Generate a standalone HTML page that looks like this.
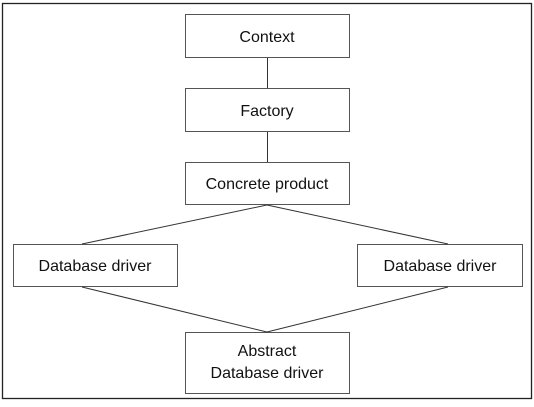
<!DOCTYPE html>
<html><head><style>
body{margin:0;background:#fff;}
svg text{font-family:"Liberation Sans",Arial,sans-serif;font-size:16px;fill:#111;}
</style></head><body>
<svg width="534" height="402" xmlns="http://www.w3.org/2000/svg">
<rect x="2.5" y="3.5" width="529" height="395" fill="#fff" stroke="#222" stroke-width="1.3"/>
<g fill="#fff" stroke="#555" stroke-width="1">
<rect x="185.5" y="14.5" width="164" height="43"/>
<rect x="185.5" y="88.5" width="164" height="43"/>
<rect x="185.5" y="162.5" width="164" height="42"/>
<rect x="13.5" y="244.5" width="164" height="42"/>
<rect x="357.5" y="244.5" width="165" height="42"/>
<rect x="185.5" y="332.5" width="164" height="61"/>
</g>
<g stroke="#333" stroke-width="1">
<line x1="267.5" y1="58" x2="267.5" y2="88"/>
<line x1="267.5" y1="132" x2="267.5" y2="162"/>
<line x1="267" y1="205" x2="82" y2="244"/>
<line x1="267" y1="205" x2="448" y2="244"/>
<line x1="82" y1="287" x2="267" y2="332"/>
<line x1="448" y1="287" x2="267" y2="332"/>
</g>
<g text-anchor="middle">
<text x="267" y="42">Context</text>
<text x="267" y="116">Factory</text>
<text x="267" y="189">Concrete product</text>
<text x="95" y="271">Database driver</text>
<text x="440" y="271">Database driver</text>
<text x="267" y="356">Abstract</text>
<text x="267" y="378">Database driver</text>
</g>
</svg>
</body></html>
